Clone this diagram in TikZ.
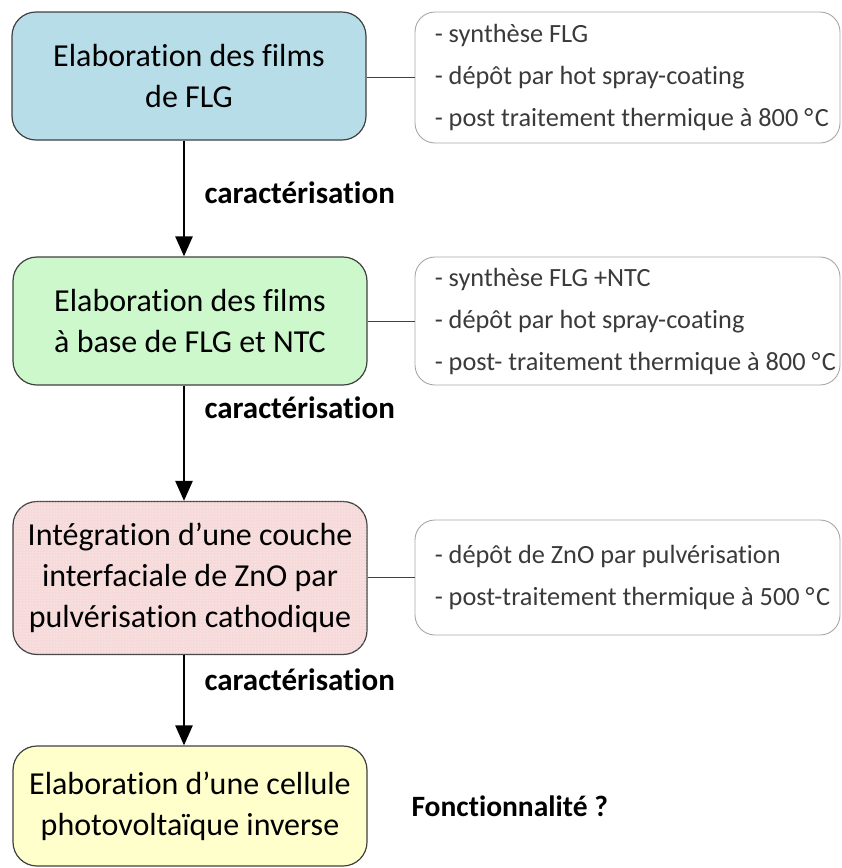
\documentclass[tikz,border=0pt]{standalone}
\usepackage{fontspec}
\setmainfont[Ligatures=NoCommon,RawFeature={-liga;-dlig;-clig}]{Carlito}
\usetikzlibrary{arrows.meta,patterns}
\definecolor{bluebox}{HTML}{B7DEE8}
\definecolor{greenbox}{HTML}{CCF8CC}
\definecolor{pinkbox}{HTML}{F6D9D9}
\definecolor{yellowbox}{HTML}{FFFFCC}
\definecolor{edgegray}{HTML}{404040}
\definecolor{lightedge}{HTML}{A6A6A6}
\definecolor{txtgray}{HTML}{3A3A3A}
\newcommand{\degC}{°\kern1.5pt C}
\tikzset{
  stage/.style={draw=edgegray, line width=1.2pt, rounded corners=24pt,
    minimum width=354pt, align=center, inner sep=0pt,
    font=\fontsize{32}{41}\selectfont},
  detail/.style={draw=lightedge, line width=0.9pt, rounded corners=20pt,
    minimum width=425pt, inner sep=0pt},
  detailtext/.style={anchor=west, align=left, inner sep=0pt,
    text=txtgray, font=\fontsize{26.3}{42}\selectfont},
  flow/.style={line width=2.6pt, -{Triangle[length=20pt,width=17pt]}},
  link/.style={line width=1pt, edgegray},
  steplabel/.style={font=\bfseries\fontsize{31}{34}\selectfont, anchor=west}
}
\begin{document}
\begin{tikzpicture}[x=1pt,y=-1pt]
\useasboundingbox (0,0) rectangle (842,868);
\node[stage, fill=bluebox, minimum height=128pt] (b1) at (189,76)
  {Elaboration des films\\de FLG};
\node[stage, fill=greenbox, minimum height=128pt] (b2) at (190,321)
  {Elaboration des films\\à base de FLG et NTC};
\node[stage, fill=pinkbox, minimum height=153pt,
  postaction={pattern=dots, pattern color=white}] (b3) at (190,578)
  {Intégration d’une couche\\interfaciale de ZnO par\\pulvérisation cathodique};
\node[stage, fill=yellowbox, minimum height=120pt] (b4) at (190,806)
  {Elaboration d’une cellule\\photovoltaïque inverse};

\node[detail, minimum height=131pt] (d1) at (627.5,77.5) {};
\node[detailtext] (t1) at ([xshift=20pt]d1.west)
  {- synthèse FLG\\- dépôt par hot spray-coating\\- post traitement thermique à 800 \degC};
\node[detail, minimum height=128pt] (d2) at (627.5,321) {};
\node[detailtext] (t2) at ([xshift=20pt]d2.west)
  {- synthèse FLG +NTC\\- dépôt par hot spray-coating\\- post- traitement thermique à 800 \degC};
\node[detail, minimum height=115pt] (d3) at (627.5,577.5) {};
\node[detailtext] (t3) at ([xshift=20pt]d3.west)
  {- dépôt de ZnO par pulvérisation\\- post-traitement thermique à 500 \degC};

\draw[link] (b1.east |- d1.west) -- (d1.west);
\draw[link] (b2.east |- d2.west) -- (d2.west);
\draw[link] (b3.east |- d3.west) -- (d3.west);

\draw[flow] (b1.south -| 184,0) -- (b2.north -| 184,0);
\draw[flow] (b2.south -| 184,0) -- (b3.north -| 184,0);
\draw[flow] (b3.south -| 184,0) -- (b4.north -| 184,0);

\node[steplabel] (c1) at (201,193) {caractérisation};
\node[steplabel] (c2) at (201,408) {caractérisation};
\node[steplabel] (c3) at (201,680) {caractérisation};
\node[steplabel, font=\bfseries\fontsize{29.5}{34}\selectfont] (f) at (408,806) {Fonctionnalité ?};
\end{tikzpicture}
\end{document}
